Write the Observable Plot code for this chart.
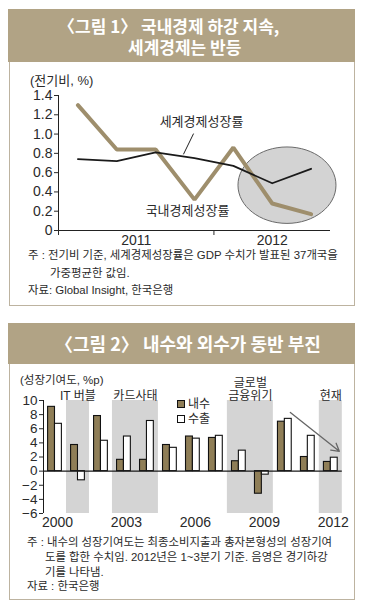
<!DOCTYPE html>
<html>
<head>
<meta charset="utf-8">
<script src="https://cdn.jsdelivr.net/npm/d3@7"></script>
<script src="https://cdn.jsdelivr.net/npm/@observablehq/plot@0.6"></script>
<style>
  html, body { margin: 0; padding: 0; background: #fff; }
  body { width: 367px; height: 610px; position: relative; overflow: hidden;
         font-family: "Liberation Sans", "Noto Sans CJK KR", sans-serif; color: #2a2a2a; }
  .abs { position: absolute; white-space: nowrap; }
  .titlebox { position: absolute; background: #b1a385; }
  .title { position: absolute; color: #fff; font-family: "Noto Sans CJK KR", sans-serif; font-weight: 700; white-space: nowrap; }
  .frame { position: absolute; border: 1.5px solid #bdb3a0; border-top: none; box-sizing: border-box; }
  .note { position: absolute; font-size: 11.4px; line-height: 14px; white-space: nowrap; color: #2a2a2a; }
  .sq { position: absolute; width: 8px; height: 8px; border: 1px solid #111; box-sizing: border-box; }
  .chart { position: absolute; }
</style>
</head>
<body>
  <!-- Figure 1 -->
  <div class="titlebox" style="left:8px; top:9px; width:347px; height:53px;"></div>
  <div class="frame" style="left:9px; top:62px; width:346px; height:244px;"></div>
  <div class="title" style="left:58px; top:16px; font-size:17px; line-height:20px;">〈그림 1〉 국내경제 하강 지속,</div>
  <div class="title" style="left:128px; top:37px; font-size:17px; line-height:20px;">세계경제는 반등</div>
  <div class="abs" style="left:30px; top:72.5px; font-size:13px; line-height:16px;">(전기비, %)</div>
  <div id="chart1" class="chart" style="left:11px; top:60px;"></div>
  <div class="note" style="left:28px; top:248px; line-height:15px;">주 : 전기비 기준, 세계경제성장률은 GDP 수치가 발표된 37개국을</div>
  <div class="note" style="left:50px; top:265.5px; line-height:15px;">가중평균한 값임.</div>
  <div class="note" style="left:28px; top:282.5px; line-height:15px;">자료: Global Insight, 한국은행</div>

  <!-- Figure 2 -->
  <div class="titlebox" style="left:8px; top:323px; width:347px; height:41px;"></div>
  <div class="frame" style="left:9px; top:364px; width:346px; height:236px;"></div>
  <div class="title" style="left:55px; top:332px; font-size:18px; line-height:22px;">〈그림 2〉 내수와 외수가 동반 부진</div>
  <div class="abs" style="left:20px; top:373px; font-size:11.5px; line-height:14px;">(성장기여도, %p)</div>
  <div id="chart2" class="chart" style="left:11px; top:370px;"></div>
  <div class="sq" style="left:177px; top:400px; background:#8f7e57;"></div>
  <div class="abs" style="left:188px; top:397px; font-size:12px; line-height:14px;">내수</div>
  <div class="sq" style="left:177px; top:415px; background:#fff;"></div>
  <div class="abs" style="left:188px; top:412px; font-size:12px; line-height:14px;">수출</div>
  <div class="note" style="left:27px; top:535px;">주 : 내수의 성장기여도는 최종소비지출과 총자본형성의 성장기여</div>
  <div class="note" style="left:45px; top:550px;">도를 합한 수치임. 2012년은 1~3분기 기준. 음영은 경기하강</div>
  <div class="note" style="left:45px; top:564.5px;">기를 나타냄.</div>
  <div class="note" style="left:27px; top:579px;">자료 : 한국은행</div>

<script>
// ---------- Data: Figure 1 ----------
const quarters = ["2011Q1", "2011Q2", "2011Q3", "2011Q4", "2012Q1", "2012Q2", "2012Q3"];
const domesticGrowth = [1.30, 0.84, 0.84, 0.32, 0.86, 0.28, 0.17];
const worldGrowth = [0.74, 0.72, 0.81, 0.75, 0.67, 0.49, 0.64];
const yTicks1 = [0, 0.2, 0.4, 0.6, 0.8, 1.0, 1.2, 1.4];
const yearLabels1 = ["2011", "2012"];
const seriesLabels1 = [
  {label: "세계경제성장률", x: 2011.92, y: 1.13},
  {label: "국내경제성장률", x: 2011.83, y: 0.20}
];
const leader1 = [{x1: 2011.869, y1: 1.005, x2: 2011.804, y2: 0.79}];
const highlight1 = [{x: 2012.47, y: 0.47}];

// ---------- Data: Figure 2 ----------
const years = [2000, 2001, 2002, 2003, 2004, 2005, 2006, 2007, 2008, 2009, 2010, 2011, 2012];
const domesticContrib = [9.1, 3.7, 7.8, 1.6, 1.6, 3.7, 4.9, 4.7, 1.4, -3.2, 7.0, 2.0, 1.3];
const exportContrib = [6.7, -1.3, 4.3, 4.9, 7.1, 3.3, 4.6, 5.0, 2.9, -0.5, 7.4, 5.0, 1.9];
const yTicks2 = [-6, -4, -2, 0, 2, 4, 6, 8, 10];
const xTicks2 = [2000, 2003, 2006, 2009, 2012];
const downturns = [
  {label: "IT 버블", start: 2001, end: 2001},
  {label: "카드사태", start: 2003, end: 2004},
  {label: "글로벌\n금융위기", start: 2008, end: 2009},
  {label: "현재", start: 2012, end: 2012}
];
const arrow2 = [{x1: 2010.24, y1: 8.3, x2: 2012.37, y2: 2.8}];

const FONT = '"Liberation Sans", "Noto Sans CJK KR", sans-serif';

// ---------- Figure 1 ----------
const qpos = q => +q.slice(0, 4) + (+q.slice(5) - 0.5) / 4;
const rows1 = quarters.map((q, i) => ({x: qpos(q), dom: domesticGrowth[i], world: worldGrowth[i]}));
const yearPos1 = yearLabels1.map(y => d3.mean(rows1.filter(r => Math.floor(r.x) === +y), r => r.x));

const ellipseSymbol = {
  draw(ctx, size) {
    const rx = Math.sqrt(size / Math.PI), ry = rx * 0.78, k = 0.5523;
    ctx.moveTo(rx, 0);
    ctx.bezierCurveTo(rx, ry * k, rx * k, ry, 0, ry);
    ctx.bezierCurveTo(-rx * k, ry, -rx, ry * k, -rx, 0);
    ctx.bezierCurveTo(-rx, -ry * k, -rx * k, -ry, 0, -ry);
    ctx.bezierCurveTo(rx * k, -ry, rx, -ry * k, rx, 0);
    ctx.closePath();
  }
};

const chart1 = Plot.plot({
  width: 342, height: 195,
  marginLeft: 47, marginRight: 23, marginTop: 35, marginBottom: 25,
  style: {fontFamily: FONT, fontSize: "14px", color: "#2a2a2a", background: "transparent", overflow: "visible"},
  x: {domain: [2011, 2012.75]},
  y: {domain: [0, 1.4]},
  marks: [
    Plot.dot(highlight1, {x: "x", y: "y", r: 49, symbol: ellipseSymbol, fill: "#d3d3d3", stroke: "#6a6a6a", strokeWidth: 1}),
    Plot.ruleX([2011], {y1: 0, y2: 1.4, stroke: "#222", strokeWidth: 1}),
    Plot.ruleY([0], {x1: 2011, x2: 2012.75, stroke: "#222", strokeWidth: 1}),
    Plot.axisY({ticks: yTicks1, tickSize: 4, tickPadding: 2, label: null, fontSize: 14,
      tickFormat: d => d === 0 ? "0" : d.toFixed(1)}),
    Plot.axisX({ticks: [2011, 2012], tickSize: 5, tickFormat: () => "", label: null}),
    Plot.axisX({ticks: yearPos1, tickSize: 0, tickPadding: 5, label: null, fontSize: 14,
      tickFormat: (d, i) => yearLabels1[i]}),
    Plot.line(rows1, {x: "x", y: "dom", stroke: "#9e8e6c", strokeWidth: 4, strokeLinejoin: "miter"}),
    Plot.line(rows1, {x: "x", y: "world", stroke: "#1a1a1a", strokeWidth: 1.8}),
    Plot.link(leader1, {x1: "x1", y1: "y1", x2: "x2", y2: "y2", stroke: "#222", strokeWidth: 1}),
    Plot.text(seriesLabels1, {x: "x", y: "y", text: "label", fontSize: 13, fill: "#2a2a2a"})
  ]
});
document.getElementById("chart1").appendChild(chart1);

// ---------- Figure 2 ----------
const rows2 = years.map((y, i) => ({year: y, dom: domesticContrib[i], exp: exportContrib[i]}));
const BW = 0.3;

const chart2 = Plot.plot({
  width: 342, height: 165,
  marginLeft: 32, marginRight: 11.2, marginTop: 30, marginBottom: 22,
  style: {fontFamily: FONT, fontSize: "14px", color: "#2a2a2a", background: "transparent", overflow: "visible"},
  x: {domain: [1999.5, 2012.5]},
  y: {domain: [-6, 10]},
  marks: [
    Plot.rect(downturns, {x1: d => d.start - 0.5, x2: d => d.end + 0.5, y1: -6, y2: 10, fill: "#d4d4d4"}),
    Plot.text(downturns, {x: d => (d.start + d.end) / 2, text: "label", frameAnchor: "top", dy: -1,
      lineAnchor: "bottom", lineHeight: 1.05, fontSize: 12, fill: "#2a2a2a"}),
    Plot.rectY(rows2, {x1: d => d.year - BW, x2: d => d.year, y: "dom", fill: "#8f7e57", stroke: "#111", strokeWidth: 1.1}),
    Plot.rectY(rows2, {x1: d => d.year, x2: d => d.year + BW, y: "exp", fill: "#fff", stroke: "#111", strokeWidth: 1.1}),
    Plot.ruleY([0], {x1: 1999.5, x2: 2012.5, stroke: "#1a1a1a", strokeWidth: 1.1}),
    Plot.ruleX([1999.5], {y1: -6, y2: 10, stroke: "#1a1a1a", strokeWidth: 1}),
    Plot.axisY({ticks: yTicks2, tickSize: 4, tickPadding: 2, label: null, fontSize: 13.5, tickFormat: d => d < 0 ? "\u2212" + Math.abs(d) : String(d)}),
    Plot.axisX({ticks: xTicks2, tickSize: 0, tickPadding: 4, dx: 2.5, label: null, fontSize: 14, tickFormat: d => String(d)}),
    Plot.arrow(arrow2, {x1: "x1", y1: "y1", x2: "x2", y2: "y2", stroke: "#666", strokeWidth: 1.3, headLength: 10})
  ]
});
document.getElementById("chart2").appendChild(chart2);
</script>
</body>
</html>
